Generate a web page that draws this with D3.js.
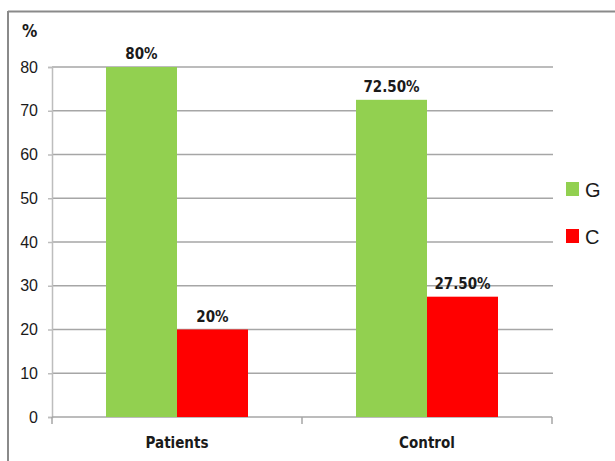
<!DOCTYPE html>
<html>
<head>
<meta charset="utf-8">
<script src="https://cdn.jsdelivr.net/npm/d3@7"></script>
<style>
  body { margin: 0; background: #fff; }
  text { font-family: "Liberation Sans", Arial, sans-serif; }
</style>
</head>
<body>
<div class="chart"></div>
<script>
// data
const groups = ["Patients", "Control"];
const alleles = ["G", "C"];
const gValues = [80, 72.5];
const cValues = [20, 27.5];
const valueLabels = [["80%", "20%"], ["72.50%", "27.50%"]];
const yTicks = [0, 10, 20, 30, 40, 50, 60, 70, 80];
const colors = ["#92d050", "#ff0000"];

const narrow = "DejaVu Sans Condensed, Liberation Sans Narrow, Arial Narrow, sans-serif";

const W = 615, H = 461;
const margin = { top: 67, right: 63, bottom: 44, left: 52 };
const width = W - margin.left - margin.right,
    height = H - margin.top - margin.bottom;

const root = d3.select(".chart").append("svg")
    .attr("width", W)
    .attr("height", H);

// outer frame (top and left edges visible)
root.append("line").attr("x1", 8).attr("x2", W).attr("y1", 11.5).attr("y2", 11.5)
    .attr("stroke", "#8a8a8a").attr("stroke-width", 2);
root.append("line").attr("x1", 8).attr("x2", 8).attr("y1", 11).attr("y2", H)
    .attr("stroke", "#8a8a8a").attr("stroke-width", 2);

const svg = root.append("g")
    .attr("transform", `translate(${margin.left}, ${margin.top})`);

let x0 = d3.scaleBand().domain(groups).range([0, width]);
let x1 = d3.scaleBand().domain(alleles).range([0, 142]);
let y = d3.scaleLinear().domain([0, 80]).range([height, 0]);

// gridlines
svg.selectAll(".grid")
    .data(yTicks.filter(d => d > 0))
    .enter()
    .append("line")
    .attr("class", "grid")
    .attr("x1", 0).attr("x2", width + 1)
    .attr("y1", d => y(d)).attr("y2", d => y(d))
    .attr("stroke", "#a6a6a6").attr("stroke-width", 1.5);

// y axis
const yAxis = d3.axisLeft(y).tickValues(yTicks).tickSize(4).tickPadding(10);
svg.append("g").attr("class", "y-axis").call(yAxis)
    .call(g => g.select(".domain").attr("stroke", "#bdbdbd").attr("stroke-width", 1.5))
    .call(g => g.selectAll(".tick line").attr("stroke", "#bdbdbd").attr("stroke-width", 1.5))
    .call(g => g.selectAll("text").attr("font-size", 16).attr("fill", "#1a1a1a"));

// x axis
const xAxis = d3.axisBottom(x0).tickSize(0).tickPadding(20);
svg.append("g").attr("class", "x-axis")
    .attr("transform", `translate(0, ${height})`)
    .call(xAxis)
    .call(g => g.select(".domain").attr("stroke", "#a6a6a6").attr("stroke-width", 1.5)
        .attr("d", `M0,0H${width}`))
    .call(g => g.selectAll("text").attr("font-size", 15).attr("font-weight", "bold")
        .attr("fill", "#1a1a1a").attr("dy", "0.71em")
        .style("font-family", narrow));

// category separator ticks on the x axis
svg.selectAll(".xsep")
    .data([0, 1, 2])
    .enter()
    .append("line")
    .attr("x1", d => d * x0.step()).attr("x2", d => d * x0.step())
    .attr("y1", height).attr("y2", height + 7)
    .attr("stroke", "#a6a6a6").attr("stroke-width", 1.5);

// bars
const rows = groups.map((g, i) => ({
    group: g,
    values: [gValues[i], cValues[i]],
    labels: valueLabels[i]
}));

const groupG = svg.selectAll(".grp")
    .data(rows)
    .enter()
    .append("g")
    .attr("class", "grp")
    .attr("transform", d => `translate(${x0(d.group) + (x0.bandwidth() - 142) / 2}, 0)`);

groupG.selectAll("rect")
    .data(d => d.values.map((v, j) => ({ key: alleles[j], v: v })))
    .enter()
    .append("rect")
    .attr("x", d => x1(d.key))
    .attr("y", d => y(d.v))
    .attr("width", x1.bandwidth())
    .attr("height", d => height - y(d.v))
    .attr("fill", (d, j) => colors[j]);

groupG.selectAll(".val")
    .data(d => d.values.map((v, j) => ({ key: alleles[j], v: v, label: d.labels[j] })))
    .enter()
    .append("text")
    .attr("class", "val")
    .attr("x", d => x1(d.key) + x1.bandwidth() / 2)
    .attr("y", d => y(d.v) - 8)
    .attr("text-anchor", "middle")
    .attr("font-size", 15)
    .attr("font-weight", "bold")
    .attr("fill", "#1a1a1a")
    .style("font-family", narrow)
    .text(d => d.label);

// y axis title
svg.append("text")
    .attr("x", -30).attr("y", -30)
    .attr("font-size", 17).attr("font-weight", "bold").attr("fill", "#1a1a1a")
    .style("font-family", narrow)
    .text("%");

// legend
const legend = root.selectAll(".legend")
    .data(alleles)
    .enter()
    .append("g")
    .attr("class", "legend")
    .attr("transform", (d, i) => `translate(566, ${182 + i * 47})`);

legend.append("rect")
    .attr("width", 13).attr("height", 14)
    .attr("fill", (d, i) => colors[i]);

legend.append("text")
    .attr("x", 19).attr("y", 15)
    .attr("font-size", 20).attr("fill", "#1a1a1a")
    .text(d => d);
</script>
</body>
</html>
